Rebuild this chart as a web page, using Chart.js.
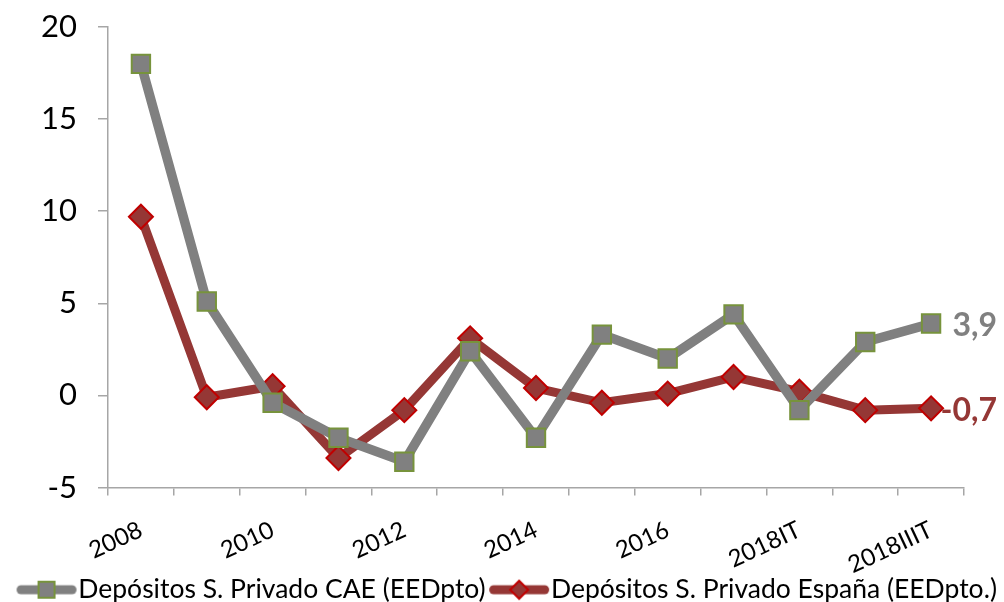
<!DOCTYPE html>
<html><head><meta charset="utf-8">
<script src="https://cdn.jsdelivr.net/npm/chart.js@4"></script>
<style>html,body{margin:0;padding:0;background:#fff;overflow:hidden}</style>
</head><body>
<canvas id="c" width="1004" height="602" style="width:1004px;height:602px;display:block"></canvas>
<script>
const categories = ['2008','2009','2010','2011','2012','2013','2014','2015','2016','2017','2018IT','2018IIT','2018IIIT'];
const caeValues = [18.0, 5.1, -0.4, -2.3, -3.6, 2.4, -2.3, 3.3, 2.0, 4.4, -0.8, 2.9, 3.9];
const espValues = [9.7, -0.1, 0.5, -3.4, -0.8, 3.1, 0.4, -0.4, 0.1, 1.0, 0.2, -0.8, -0.7];
const seriesNames = ['Depósitos S. Privado CAE (EEDpto)', 'Depósitos S. Privado España (EEDpto.)'];
const yMin = -5, yMax = 20, yStep = 5;

const GRAY = '#808080', GREEN = '#77933C', DRED = '#953735', RED = '#C00000';
const FONT = 'Lato, "Open Sans", sans-serif';
const BOXW = 40, LEGSIZE = 26.5;

function makeIcon(lineColor, kind) {
  const c = document.createElement('canvas');
  c.width = Math.round(BOXW + LEGSIZE); c.height = 22;
  const g = c.getContext('2d');
  const a = c.width - 62, b = c.width - 2, mid = (a + b) / 2;
  g.strokeStyle = lineColor; g.lineWidth = 9; g.lineCap = 'round';
  g.beginPath(); g.moveTo(a + 4.5, 11); g.lineTo(b - 4.5, 11); g.stroke();
  g.lineWidth = 2;
  if (kind === 'rect') {
    g.fillStyle = GRAY; g.strokeStyle = GREEN;
    g.fillRect(mid - 8, 3, 16, 16); g.strokeRect(mid - 8, 3, 16, 16);
  } else {
    g.fillStyle = DRED; g.strokeStyle = RED;
    g.beginPath(); g.moveTo(mid, 2); g.lineTo(mid + 9, 11); g.lineTo(mid, 20); g.lineTo(mid - 9, 11); g.closePath();
    g.fill(); g.stroke();
  }
  return c;
}
const icons = [makeIcon(GRAY, 'rect'), makeIcon(DRED, 'diamond')];

const lastLabelPlugin = {
  id: 'lastLabel',
  afterLayout(chart) {
    // let rotated x labels extend below the axis box, and place the legend row
    chart.scales.x.bottom += 40;
    chart.legend.top += 11;
    chart.legend.bottom += 11;
    chart.legend.left += 9;
    chart.legend.right += 9;
  },
  afterDatasetsDraw(chart) {
    const ctx = chart.ctx;
    ctx.save();
    ctx.font = 'bold 32px ' + FONT;
    ctx.textAlign = 'right';
    ctx.textBaseline = 'middle';
    chart.data.datasets.forEach((ds, i) => {
      const meta = chart.getDatasetMeta(i);
      const pt = meta.data[meta.data.length - 1];
      const v = ds.data[ds.data.length - 1];
      ctx.fillStyle = ds.labelColor;
      ctx.fillText(v.toFixed(1).replace('.', ','), pt.x + 66, pt.y + 2);
    });
    ctx.restore();
  }
};

function build() {
  new Chart(document.getElementById('c'), {
    type: 'line',
    data: {
      labels: categories,
      datasets: [
        { label: seriesNames[0], data: caeValues, borderColor: GRAY, borderWidth: 9.5, tension: 0,
          pointStyle: 'rect', pointRadius: 13, pointBackgroundColor: GRAY, pointBorderColor: GREEN,
          pointBorderWidth: 2, labelColor: GRAY, fill: false },
        { label: seriesNames[1], data: espValues, borderColor: DRED, borderWidth: 9, tension: 0,
          pointStyle: 'rectRot', pointRadius: 12, pointBackgroundColor: DRED, pointBorderColor: RED,
          pointBorderWidth: 2, labelColor: DRED, fill: false }
      ]
    },
    options: {
      responsive: false,
      animation: false,
      devicePixelRatio: 1,
      layout: { padding: { left: 0, right: 0, top: 27, bottom: 0 } },
      plugins: {
        tooltip: { enabled: false },
        legend: {
          position: 'bottom',
          labels: {
            usePointStyle: true,
            pointStyleWidth: BOXW,
            padding: 12,
            color: '#000',
            font: { family: FONT, size: LEGSIZE },
            generateLabels(chart) {
              return chart.data.datasets.map((ds, i) => ({
                text: ds.label, pointStyle: icons[i], datasetIndex: i,
                fillStyle: 'transparent', strokeStyle: 'transparent', lineWidth: 0, fontColor: '#000'
              }));
            }
          }
        }
      },
      scales: {
        x: {
          offset: true,
          afterFit(s) { s.height = 66; },
          grid: { offset: true, drawOnChartArea: false, drawTicks: true, tickLength: 8, color: '#A6A6A6', lineWidth: 1.5 },
          border: { color: '#A6A6A6', width: 1.5 },
          ticks: {
            autoSkip: false, maxRotation: 25, minRotation: 25, color: '#000', padding: 20,
            font: { family: FONT, size: 24 },
            callback(v, i) { return i % 2 === 0 ? categories[i] : ''; }
          }
        },
        y: {
          min: yMin, max: yMax,
          afterFit(s) { s.width = 108; s.paddingTop = 0; s.paddingBottom = 0; },
          grid: { drawOnChartArea: false, drawTicks: true, tickLength: 10, color: '#A6A6A6', lineWidth: 1.5 },
          border: { color: '#A6A6A6', width: 1.5 },
          ticks: { stepSize: yStep, color: '#000', padding: 21, font: { family: FONT, size: 31 } }
        },
        yRight: {
          position: 'right',
          min: yMin, max: yMax,
          afterFit(s) { s.width = 40; s.paddingTop = 0; s.paddingBottom = 0; },
          grid: { display: false, drawTicks: false },
          border: { display: false },
          ticks: { display: false }
        }
      }
    },
    plugins: [lastLabelPlugin]
  });
}
if (document.fonts && document.fonts.load) {
  Promise.all([document.fonts.load('26px Lato'), document.fonts.load('bold 32px Lato')]).then(build, build);
} else build();
</script>
</body></html>
